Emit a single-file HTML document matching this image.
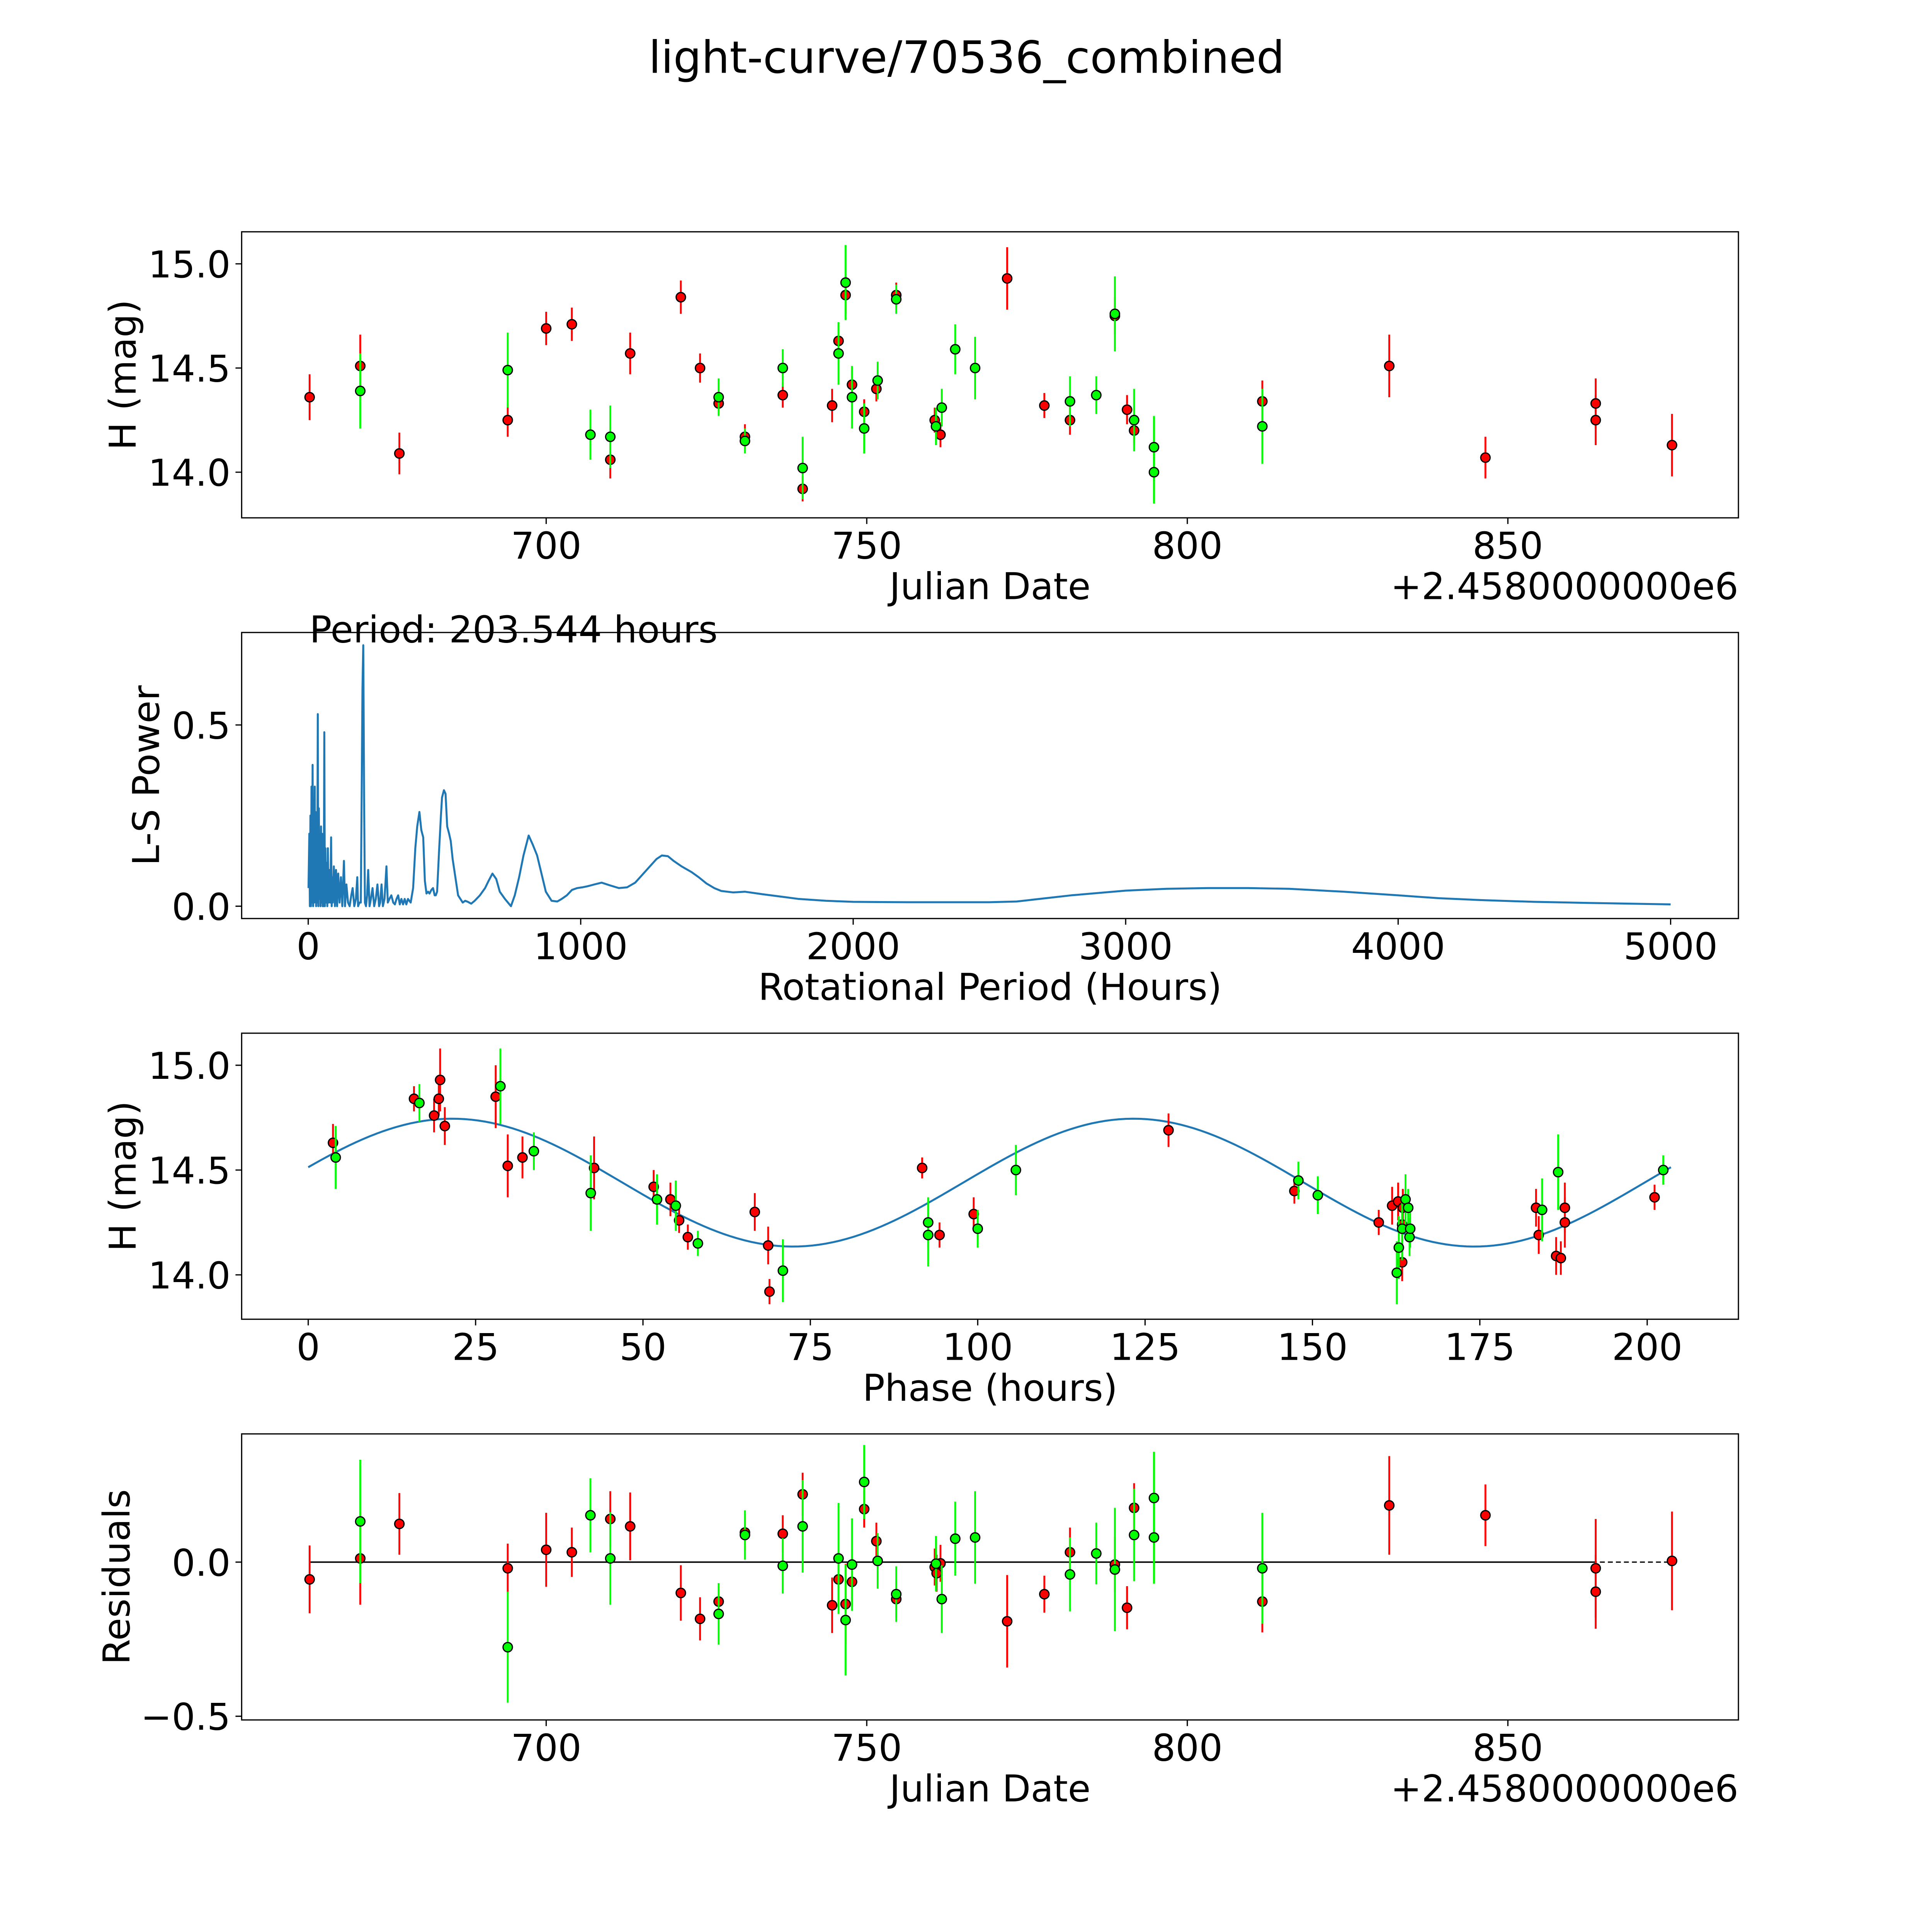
<!DOCTYPE html>
<html><head><meta charset="utf-8"><style>
html,body{margin:0;padding:0;background:#fff;overflow:hidden;}
svg{display:block;width:100vw;height:100vw;}
text{font-family:"DejaVu Sans","Liberation Sans",sans-serif;fill:#000;}
</style></head><body>
<svg id="fig" xmlns="http://www.w3.org/2000/svg" viewBox="0 0 1567 1567">
<rect x="0" y="0" width="1567" height="1567" fill="#fff"/>
<text x="784" y="59" font-size="36" text-anchor="middle">light-curve/70536_combined</text>
</svg>
<script>
// ---- Panel 1: light curve (Julian date offsets, H mag, errors) ----
const lcRedDate=[663.1,671.0,677.1,694.0,700.0,704.0,710.0,713.1,721.0,724.0,726.9,731.0,736.9,740.0,744.6,745.6,746.7,747.7,749.6,751.5,754.6,760.6,761.5,771.9,777.7,781.7,788.7,790.6,791.7,811.7,831.5,846.5,863.7,863.7,875.6];
const lcRedMag=[14.36,14.51,14.09,14.25,14.69,14.71,14.06,14.57,14.84,14.50,14.33,14.17,14.37,13.92,14.32,14.63,14.85,14.42,14.29,14.40,14.85,14.25,14.18,14.93,14.32,14.25,14.75,14.30,14.20,14.34,14.51,14.07,14.33,14.25,14.13];
const lcRedErr=[0.11,0.15,0.10,0.08,0.08,0.08,0.09,0.10,0.08,0.07,0.05,0.06,0.06,0.06,0.08,0.09,0.09,0.08,0.06,0.06,0.06,0.06,0.06,0.15,0.06,0.07,0.09,0.07,0.06,0.10,0.15,0.10,0.12,0.12,0.15];
const lcGreenDate=[671.0,694.0,706.9,710.0,726.9,731.0,736.9,740.0,745.6,746.7,747.7,749.6,751.7,754.6,760.8,761.7,763.8,766.9,781.7,785.8,788.7,791.7,794.8,794.8,811.7];
const lcGreenMag=[14.39,14.49,14.18,14.17,14.36,14.15,14.50,14.02,14.57,14.91,14.36,14.21,14.44,14.83,14.22,14.31,14.59,14.50,14.34,14.37,14.76,14.25,14.12,14.00,14.22];
const lcGreenErr=[0.18,0.18,0.12,0.15,0.09,0.06,0.09,0.15,0.15,0.18,0.15,0.12,0.09,0.07,0.09,0.09,0.12,0.15,0.12,0.09,0.18,0.15,0.15,0.15,0.18];
// ---- Panel 2: periodogram (rows of 10 kept aligned) ----
const lsPeriod=[1,4,6,8,10,12,14,16,18,20,
22,24,25,27,29,31,33,35,37,39,
41,43,45,47,49,51,53,55,57,59,
61,63,65,68,70,72,75,78,81,84,
86,88,90,94,98,102,106,110,115,120,
125,131,135,140,146,152,158,163,169,175,
180,183,188,193,196,199,202,205,208,212,
216,220,225,230,236,242,248,254,260,264,
269,274,280,287,292,298,305,312,318,324,
330,336,342,348,354,360,366,376,385,393,
400,408,415,422,428,434,440,445,452,458,
464,468,473,480,487,491,498,504,510,517,
523,530,540,550,567,576,586,598,611,630,
649,662,676,690,703,722,744,758,774,790,
809,824,840,856,872,893,914,930,949,968,
987,1005,1025,1050,1077,1105,1140,1170,1200,1230,
1254,1278,1298,1320,1341,1370,1407,1433,1461,1490,
1516,1560,1603,1668,1750,1800,1900,2000,2200,2400,
2500,2600,2800,3000,3150,3300,3450,3600,3800,4000,
4150,4300,4500,4700,5000];
const lsPower=[0.05,0.2,0.0,0.25,0.0,0.33,0.01,0.39,0.0,0.28,
0.01,0.33,0.05,0.26,0.0,0.2,0.01,0.53,0.0,0.27,
0.02,0.2,0.0,0.22,0.01,0.2,0.0,0.13,0.0,0.48,
0.0,0.16,0.01,0.12,0.0,0.16,0.01,0.1,0.01,0.19,
0.0,0.08,0.01,0.11,0.0,0.1,0.0,0.09,0.01,0.08,
0.0,0.125,0.0,0.06,0.01,0.0,0.03,0.05,0.0,0.02,
0.08,0.0,0.01,0.01,0.3,0.6,0.72,0.3,0.01,0.0,
0.03,0.10,0.0,0.02,0.05,0.0,0.02,0.06,0.0,0.01,
0.06,0.0,0.02,0.11,0.01,0.02,0.03,0.01,0.005,0.02,
0.03,0.005,0.02,0.005,0.02,0.005,0.02,0.01,0.05,0.16,
0.22,0.26,0.21,0.19,0.07,0.035,0.04,0.035,0.045,0.05,
0.03,0.03,0.04,0.15,0.25,0.3,0.32,0.31,0.22,0.2,
0.18,0.13,0.08,0.03,0.01,0.015,0.012,0.007,0.015,0.03,
0.05,0.07,0.09,0.075,0.04,0.02,0.00,0.03,0.08,0.14,
0.195,0.17,0.14,0.09,0.04,0.015,0.013,0.02,0.03,0.045,
0.05,0.052,0.055,0.06,0.065,0.058,0.05,0.052,0.065,0.09,
0.11,0.13,0.14,0.138,0.125,0.11,0.094,0.08,0.063,0.05,
0.042,0.038,0.04,0.033,0.025,0.02,0.015,0.012,0.011,0.011,
0.011,0.013,0.03,0.043,0.048,0.05,0.05,0.048,0.04,0.03,
0.022,0.017,0.012,0.009,0.005];
// ---- Panel 3: phased light curve ----
const phRedPhase=[3.7,15.8,18.8,19.5,19.7,20.4,28.0,29.8,32.0,42.7,51.6,54.1,55.4,56.7,66.7,68.7,68.9,91.7,94.3,99.4,128.5,147.3,159.9,161.9,162.8,163.4,163.5,163.4,183.4,183.8,186.4,187.1,187.7,187.7,201.1];
const phRedMag=[14.63,14.84,14.76,14.84,14.93,14.71,14.85,14.52,14.56,14.51,14.42,14.36,14.26,14.18,14.30,14.14,13.92,14.51,14.19,14.29,14.69,14.40,14.25,14.33,14.35,14.24,14.32,14.06,14.32,14.19,14.09,14.08,14.32,14.25,14.37];
const phRedErr=[0.09,0.06,0.08,0.08,0.15,0.09,0.15,0.15,0.10,0.15,0.08,0.08,0.06,0.06,0.09,0.09,0.06,0.05,0.06,0.08,0.08,0.06,0.06,0.09,0.09,0.08,0.09,0.09,0.09,0.09,0.09,0.08,0.12,0.12,0.06];
const phGreenPhase=[4.1,16.6,28.7,33.7,42.2,52.1,54.9,58.2,70.9,92.6,92.6,100.0,105.7,147.9,150.8,162.6,162.9,163.4,163.9,164.3,164.5,164.6,184.3,186.7,202.4];
const phGreenMag=[14.56,14.82,14.90,14.59,14.39,14.36,14.33,14.15,14.02,14.25,14.19,14.22,14.50,14.45,14.38,14.01,14.13,14.22,14.36,14.32,14.18,14.22,14.31,14.49,14.50];
const phGreenErr=[0.15,0.09,0.18,0.09,0.18,0.12,0.12,0.06,0.15,0.12,0.15,0.09,0.12,0.09,0.09,0.15,0.15,0.15,0.12,0.09,0.09,0.09,0.15,0.18,0.07];
// model: mean, amplitude, period (h), phase of maximum (h)
const modelParams=[14.44,0.305,101.772,21.5];
const modelRange=[0,203.544];
// ---- Panel 4: residuals ----
const resRedDate=[663.1,671.0,677.1,694.0,700.0,704.0,710.0,713.1,721.0,724.0,726.9,731.0,736.9,740.0,744.6,745.6,746.7,747.7,749.6,751.5,754.6,760.6,760.9,771.9,777.7,781.7,788.7,790.6,791.7,811.7,831.5,846.5,863.7,863.7,875.6,761.5];
const resRedVal=[-0.056,0.012,0.124,-0.02,0.04,0.032,0.14,0.116,-0.10,-0.184,-0.128,0.096,0.092,0.22,-0.14,-0.056,-0.136,-0.064,0.172,0.068,-0.12,-0.016,-0.036,-0.192,-0.104,0.032,-0.008,-0.148,0.176,-0.128,0.184,0.152,-0.02,-0.096,0.004,-0.004];
const resRedErr=[0.11,0.15,0.10,0.08,0.12,0.08,0.09,0.11,0.09,0.07,0.05,0.06,0.06,0.07,0.09,0.09,0.13,0.08,0.06,0.06,0.06,0.06,0.06,0.15,0.06,0.08,0.09,0.07,0.08,0.10,0.16,0.10,0.16,0.12,0.16,0.06];
const resGreenDate=[671.0,694.0,706.9,710.0,726.9,731.0,736.9,740.0,745.6,746.7,747.7,749.6,751.7,754.6,760.8,761.7,763.8,766.9,781.7,785.8,788.7,791.7,794.8,794.8,811.7];
const resGreenVal=[0.132,-0.276,0.152,0.012,-0.168,0.088,-0.012,0.116,0.012,-0.188,-0.008,0.26,0.004,-0.104,-0.005,-0.12,0.076,0.08,-0.04,0.028,-0.024,0.088,0.208,0.08,-0.02];
const resGreenErr=[0.2,0.18,0.12,0.15,0.1,0.08,0.09,0.15,0.18,0.18,0.15,0.12,0.09,0.09,0.09,0.11,0.12,0.15,0.12,0.1,0.2,0.15,0.15,0.15,0.18];

const NS='http://www.w3.org/2000/svg';
const svg=document.getElementById('fig');
const FS=30;
function mk(tag,attrs,parent){const e=document.createElementNS(NS,tag);for(const k in attrs)e.setAttribute(k,attrs[k]);(parent||svg).appendChild(e);return e;}
function lin(d0,d1,p0,p1){return v=>p0+(v-d0)*(p1-p0)/(d1-d0);}

function axesFrame(name,top,xs,xticks,xfmt,ys,yticks,yfmt,xlabel,ylabel,ylabelX,offset){
  const g=mk('g',{});
  
  
  const L=196,R=1410,B=top+232;
  const fr=mk('rect',{x:L,y:top,width:R-L,height:232,fill:'none',stroke:'#000','stroke-width':1},g);
  
  
  xticks.forEach(t=>{const x=xs(t);mk('line',{x1:x,x2:x,y1:B,y2:B+5,stroke:'#000','stroke-width':1},g);
    const tx=mk('text',{x:x,y:B+33,'font-size':FS,'text-anchor':'middle'},g);tx.textContent=xfmt(t);
    
    });
  yticks.forEach(t=>{const y=ys(t);mk('line',{x1:L-5,x2:L,y1:y,y2:y,stroke:'#000','stroke-width':1},g);
    const tx=mk('text',{x:L-9,y:y+11,'font-size':FS,'text-anchor':'end'},g);tx.textContent=yfmt(t);
    
    });
  const xl=mk('text',{x:803,y:B+66,'font-size':FS,'text-anchor':'middle'},g);xl.textContent=xlabel;
  
  
  const yc=top+116;
  const yl=mk('text',{x:ylabelX,y:yc,'font-size':FS,'text-anchor':'middle',transform:`rotate(-90 ${ylabelX} ${yc})`},g);yl.textContent=ylabel;
  
  
  if(offset){const o=mk('text',{x:R,y:B+66,'font-size':FS,'text-anchor':'end'},g);o.textContent=offset;
    
    }
  return g;
}
function errPoints(g,xsArr,ysArr,eArr,xs,ys,color,nm){
  xsArr.forEach((xv,i)=>{const x=xs(xv);
    const l=mk('line',{x1:x,x2:x,y1:ys(ysArr[i]-eArr[i]),y2:ys(ysArr[i]+eArr[i]),stroke:color,'stroke-width':1.5},g);
    
    });
  xsArr.forEach((xv,i)=>{const c=mk('circle',{cx:xs(xv),cy:ys(ysArr[i]),r:3.8,fill:color,stroke:'#000','stroke-width':1},g);
    
    });
}
const f1=v=>v.toFixed(1);
const fi=v=>String(v);
// Panel 1
const xsD=lin(700,850,443,1223);
const ys1=lin(15,14,214,383);
axesFrame('lightcurve-axes',188,xsD,[700,750,800,850],fi,ys1,[14.0,14.5,15.0],f1,'Julian Date','H (mag)',110,'+2.4580000000e6');
const g1=mk('g',{});


errPoints(g1,lcRedDate,lcRedMag,lcRedErr,xsD,ys1,'#ff0000','red-obs');
errPoints(g1,lcGreenDate,lcGreenMag,lcGreenErr,xsD,ys1,'#00ff00','green-obs');
// Panel 2
const xsP=lin(0,5000,250,1355);
const ys2=lin(0,0.5,735,588);
axesFrame('periodogram-axes',513,xsP,[0,1000,2000,3000,4000,5000],fi,ys2,[0.0,0.5],f1,'Rotational Period (Hours)','L-S Power',129,null);
const pt=mk('text',{x:251,y:521,'font-size':FS});pt.textContent='Period: 203.544 hours';


const nLS=Math.min(lsPeriod.length,lsPower.length);
const lsPts=[];
for(let i=0;i<nLS;i++)lsPts.push(xsP(lsPeriod[i]).toFixed(2)+','+ys2(lsPower[i]).toFixed(2));
const pp=mk('polyline',{points:lsPts.join(' '),fill:'none',stroke:'#1f77b4','stroke-width':1.6,'stroke-linejoin':'round'});


// Panel 3
const xsPh=lin(0,200,250,1336);
const ys3=lin(15,14,864,1034);
axesFrame('phase-axes',838,xsPh,[0,25,50,75,100,125,150,175,200],fi,ys3,[14.0,14.5,15.0],f1,'Phase (hours)','H (mag)',110,null);
const mpts=[];
for(let i=0;i<=200;i++){const t=modelRange[0]+(modelRange[1]-modelRange[0])*i/200;
  const m=modelParams[0]+modelParams[1]*Math.cos(2*Math.PI*(t-modelParams[3])/modelParams[2]);
  mpts.push(xsPh(t).toFixed(2)+','+ys3(m).toFixed(2));}
const ml=mk('polyline',{points:mpts.join(' '),fill:'none',stroke:'#1f77b4','stroke-width':1.6});


const g3=mk('g',{});


errPoints(g3,phRedPhase,phRedMag,phRedErr,xsPh,ys3,'#ff0000','red-phase');
errPoints(g3,phGreenPhase,phGreenMag,phGreenErr,xsPh,ys3,'#00ff00','green-phase');
// Panel 4
const ys4=lin(0,-0.5,1267,1392);
axesFrame('residuals-axes',1163,xsD,[700,750,800,850],fi,ys4,[-0.5,0.0],v=>v<0?'\u22120.5':'0.0','Julian Date','Residuals',105,'+2.4580000000e6');
const zd=mk('line',{x1:xsD(663.1),x2:xsD(875.6),y1:ys4(0),y2:ys4(0),stroke:'#000','stroke-width':1,'stroke-dasharray':'4 2.5'});


const zs=mk('line',{x1:xsD(663.1),x2:xsD(863.7),y1:ys4(0),y2:ys4(0),stroke:'#000','stroke-width':1.2});


const g4=mk('g',{});


errPoints(g4,resRedDate,resRedVal,resRedErr,xsD,ys4,'#ff0000','red-residual');
errPoints(g4,resGreenDate,resGreenVal,resGreenErr,xsD,ys4,'#00ff00','green-residual');
</script>
</body></html>
